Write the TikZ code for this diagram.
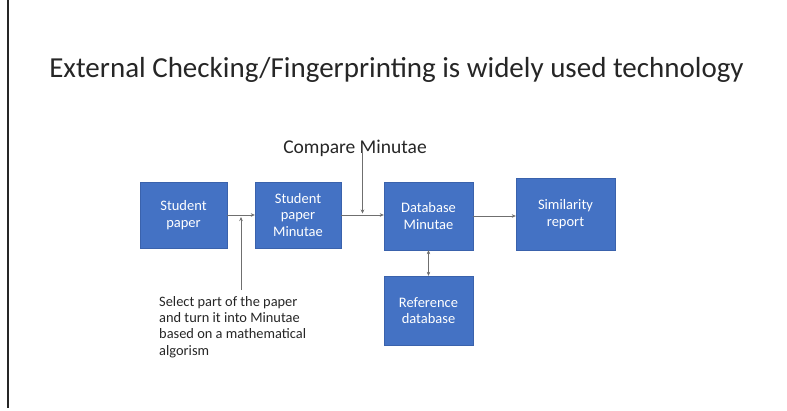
\documentclass[tikz,border=0pt]{standalone}
\usepackage{fontspec}
\setmainfont{Carlito}
\usetikzlibrary{arrows.meta,calc}

\definecolor{boxblue}{HTML}{4472C4}
\definecolor{boxedge}{HTML}{3A62AC}
\definecolor{linegray}{HTML}{6F6F6F}
\definecolor{titlegray}{HTML}{262626}

\tikzset{
  bluebox/.style={rectangle, fill=boxblue, draw=boxedge, thin, text=white,
    align=center, font=\fontsize{14.5}{16.5}\selectfont, inner sep=0pt},
  flow/.style={->, linegray, thin},
}

\begin{document}
\begin{tikzpicture}[x=1pt, y=-1pt, >={Stealth[length=4pt,width=3.5pt]}]
  \useasboundingbox (0,0) rectangle (787,410);

  % Margin line
  \draw[line width=1.4pt, black!85] (8,0) -- (8,408);

  % Title
  \node[text=titlegray, font=\fontsize{29}{34}\selectfont] (title) at (396.5,70)
    {External Checking/Fingerprinting is widely used technology};

  % Boxes
  \node[bluebox, minimum width=87pt, minimum height=66pt] (spaper) at (183.5,215) {Student\\paper};
  \node[bluebox, minimum width=86pt, minimum height=66pt] (spmin) at (298,215) {Student\\paper\\Minutae};
  \node[bluebox, minimum width=89pt, minimum height=68pt] (dbmin) at (428.5,216) {Database\\Minutae};
  \node[bluebox, minimum width=99pt, minimum height=72pt] (simrep) at (565.5,214) {Similarity\\report};
  \node[bluebox, minimum width=89pt, minimum height=69pt] (refdb) at (428.5,310.5) {Reference\\database};

  % Labels
  \node[text=titlegray, font=\fontsize{19.5}{23}\selectfont] (cmp) at (355,148) {Compare Minutae};
  \node[text=titlegray, anchor=north west, align=left, font=\fontsize{14.4}{16.3}\selectfont,
    inner sep=0pt] (seltext) at (159,296)
    {Select part of the paper\\and turn it into Minutae\\based on a mathematical\\algorism};

  % Flow arrows
  \draw[flow] (spaper.east) -- (spaper.east -| spmin.west);
  \draw[flow] (spmin.east) -- (spmin.east -| dbmin.west);
  \draw[flow] (dbmin.east) -- (dbmin.east -| simrep.west);
  \draw[flow, <->] (dbmin.south) -- (refdb.north);

  % Annotation arrows
  \coordinate (selmid) at ($(spaper.east)!0.5!(spmin.west)$);
  \coordinate (cmpmid) at ($(spmin.east)!0.5!(dbmin.west)$);
  \draw[flow] (seltext.north -| selmid) ++(0,-6) -- ($(selmid)+(0,2)$);
  \draw[flow] (cmp.base -| cmpmid) -- ($(cmpmid)+(0,-2)$);
\end{tikzpicture}
\end{document}
